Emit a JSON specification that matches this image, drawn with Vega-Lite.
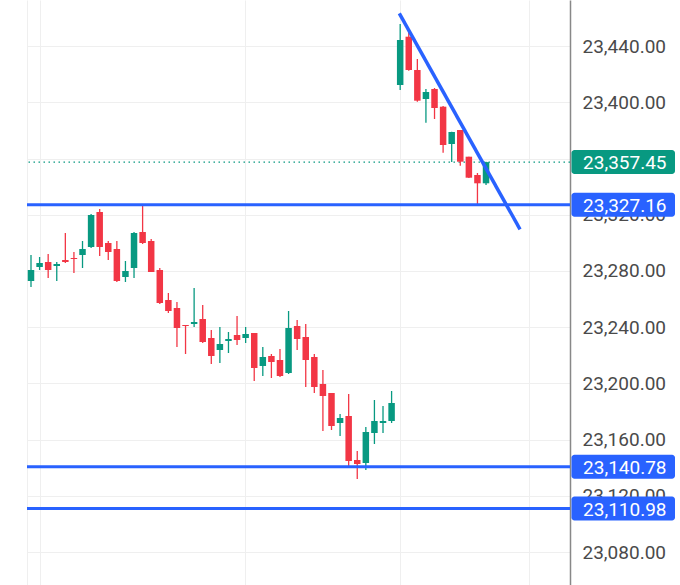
{
  "$schema": "https://vega.github.io/schema/vega-lite/v6.json",
  "description": "Candlestick chart with support levels and a falling trendline.",
  "width": 543,
  "height": 585,
  "autosize": {"type": "none"},
  "padding": {"left": 27, "top": 0, "right": 110, "bottom": 0},
  "config": {"font": "Roboto", "view": {"stroke": null}},
  "datasets": {
    "candles": [
      {"i": 1, "o": 23272.88, "h": 23291.38, "l": 23268.61, "c": 23280.70},
      {"i": 2, "o": 23282.84, "h": 23289.95, "l": 23280.70, "c": 23285.68},
      {"i": 3, "o": 23286.40, "h": 23292.09, "l": 23275.01, "c": 23280.70},
      {"i": 4, "o": 23283.55, "h": 23286.40, "l": 23272.88, "c": 23284.97},
      {"i": 5, "o": 23287.82, "h": 23307.03, "l": 23285.68, "c": 23286.40},
      {"i": 6, "o": 23289.24, "h": 23293.51, "l": 23278.57, "c": 23288.53},
      {"i": 7, "o": 23291.38, "h": 23301.34, "l": 23282.13, "c": 23295.64},
      {"i": 8, "o": 23297.07, "h": 23320.54, "l": 23296.36, "c": 23319.83},
      {"i": 9, "o": 23321.97, "h": 23324.10, "l": 23290.66, "c": 23297.07},
      {"i": 10, "o": 23299.91, "h": 23301.34, "l": 23287.82, "c": 23293.51},
      {"i": 11, "o": 23295.64, "h": 23301.34, "l": 23272.20, "c": 23272.88},
      {"i": 12, "o": 23275.72, "h": 23287.11, "l": 23272.17, "c": 23279.99},
      {"i": 13, "o": 23282.13, "h": 23307.74, "l": 23275.01, "c": 23307.03},
      {"i": 14, "o": 23307.74, "h": 23327.16, "l": 23299.20, "c": 23299.91},
      {"i": 15, "o": 23301.34, "h": 23302.76, "l": 23279.28, "c": 23279.28},
      {"i": 16, "o": 23280.70, "h": 23282.13, "l": 23256.52, "c": 23257.23},
      {"i": 17, "o": 23259.36, "h": 23264.34, "l": 23250.11, "c": 23251.54},
      {"i": 18, "o": 23253.67, "h": 23257.94, "l": 23225.93, "c": 23239.44},
      {"i": 19, "o": 23241.58, "h": 23241.58, "l": 23220.95, "c": 23240.87},
      {"i": 20, "o": 23242.29, "h": 23267.90, "l": 23240.16, "c": 23243.71},
      {"i": 21, "o": 23245.85, "h": 23255.81, "l": 23228.77, "c": 23229.48},
      {"i": 22, "o": 23232.33, "h": 23238.02, "l": 23213.83, "c": 23219.53},
      {"i": 23, "o": 23223.79, "h": 23240.16, "l": 23214.55, "c": 23228.06},
      {"i": 24, "o": 23230.20, "h": 23236.60, "l": 23221.66, "c": 23231.62},
      {"i": 25, "o": 23234.46, "h": 23247.98, "l": 23227.35, "c": 23230.91},
      {"i": 26, "o": 23232.33, "h": 23240.16, "l": 23228.77, "c": 23235.18},
      {"i": 27, "o": 23235.89, "h": 23235.89, "l": 23201.74, "c": 23210.99},
      {"i": 28, "o": 23212.41, "h": 23225.93, "l": 23205.30, "c": 23218.81},
      {"i": 29, "o": 23219.53, "h": 23220.95, "l": 23203.87, "c": 23215.26},
      {"i": 30, "o": 23216.68, "h": 23224.50, "l": 23204.59, "c": 23205.30},
      {"i": 31, "o": 23207.43, "h": 23251.54, "l": 23206.72, "c": 23239.44},
      {"i": 32, "o": 23240.87, "h": 23245.14, "l": 23223.79, "c": 23231.62},
      {"i": 33, "o": 23233.04, "h": 23242.29, "l": 23197.47, "c": 23216.68},
      {"i": 34, "o": 23218.81, "h": 23220.95, "l": 23193.20, "c": 23197.47},
      {"i": 35, "o": 23199.61, "h": 23209.57, "l": 23166.17, "c": 23191.07},
      {"i": 36, "o": 23193.20, "h": 23193.20, "l": 23166.88, "c": 23169.73},
      {"i": 37, "o": 23171.86, "h": 23178.26, "l": 23162.61, "c": 23175.42},
      {"i": 38, "o": 23176.84, "h": 23192.49, "l": 23139.85, "c": 23144.83},
      {"i": 39, "o": 23145.54, "h": 23151.94, "l": 23132.02, "c": 23142.70},
      {"i": 40, "o": 23143.41, "h": 23169.02, "l": 23138.43, "c": 23165.46},
      {"i": 41, "o": 23164.75, "h": 23188.22, "l": 23156.92, "c": 23173.28},
      {"i": 42, "o": 23171.86, "h": 23183.96, "l": 23164.75, "c": 23173.28},
      {"i": 43, "o": 23173.28, "h": 23194.63, "l": 23171.86, "c": 23186.09},
      {"i": 44, "o": 23412.31, "h": 23455.71, "l": 23408.75, "c": 23444.32},
      {"i": 45, "o": 23446.67, "h": 23451.44, "l": 23422.48, "c": 23422.98},
      {"i": 46, "o": 23422.98, "h": 23430.81, "l": 23400.43, "c": 23401.14},
      {"i": 47, "o": 23402.35, "h": 23409.47, "l": 23385.49, "c": 23407.33},
      {"i": 48, "o": 23409.47, "h": 23410.18, "l": 23388.12, "c": 23395.95},
      {"i": 49, "o": 23396.88, "h": 23397.37, "l": 23364.15, "c": 23369.63},
      {"i": 50, "o": 23370.34, "h": 23379.09, "l": 23357.53, "c": 23378.88},
      {"i": 51, "o": 23380.30, "h": 23380.30, "l": 23354.90, "c": 23357.75},
      {"i": 52, "o": 23361.31, "h": 23361.31, "l": 23346.15, "c": 23346.37},
      {"i": 53, "o": 23348.29, "h": 23349.71, "l": 23327.50, "c": 23342.38},
      {"i": 54, "o": 23342.38, "h": 23357.75, "l": 23341.17, "c": 23357.45}
    ],
    "levels": [
      {"v": 23327.16},
      {"v": 23140.78},
      {"v": 23110.98}
    ],
    "trend": [
      {"i": 43.90, "v": 23463.3},
      {"i": 57.96, "v": 23309.66}
    ],
    "tags": [
      {"v": 23357.45, "kind": "last"},
      {"v": 23327.16, "kind": "level"},
      {"v": 23140.78, "kind": "level"},
      {"v": 23110.98, "kind": "level"}
    ]
  },
  "encoding": {
    "y": {
      "type": "quantitative",
      "scale": {"domain": [23056.62, 23472.78], "nice": false, "zero": false, "padding": 0},
      "axis": {
        "orient": "right",
        "values": [23080, 23120, 23160, 23200, 23240, 23280, 23320, 23360, 23400, 23440],
        "format": ",.2f",
        "grid": true,
        "gridColor": "#efefef",
        "ticks": false,
        "domainColor": "#888888",
        "domainWidth": 1.5,
        "labelFont": "Roboto",
        "labelFontSize": 19,
        "labelColor": "#4a4a4a",
        "labelPadding": 12,
        "title": null
      }
    }
  },
  "layer": [
    {
      "data": {"values": [{"v": 23357.45}]},
      "mark": {"type": "rule", "color": "#089981", "strokeWidth": 1.2, "strokeDash": [1.5, 3.5]},
      "encoding": {"y": {"field": "v", "type": "quantitative"}}
    },
    {
      "data": {"name": "candles"},
      "mark": {"type": "rule", "strokeWidth": 1.3},
      "encoding": {
        "x": {
          "field": "i",
          "type": "quantitative",
          "scale": {"domain": [0.534, 63.78], "nice": false, "zero": false, "padding": 0},
          "axis": {
            "values": [0.534, 2.05, 25.9, 43.98, 59],
            "grid": true,
            "gridColor": "#efefef",
            "labels": false,
            "ticks": false,
            "domain": false,
            "title": null
          }
        },
        "y": {"field": "l", "type": "quantitative"},
        "y2": {"field": "h"},
        "color": {
          "condition": {"test": "datum.c >= datum.o", "value": "#089981"},
          "value": "#F23645"
        }
      }
    },
    {
      "data": {"name": "candles"},
      "mark": {"type": "bar", "size": 6.5},
      "encoding": {
        "x": {"field": "i", "type": "quantitative", "scale": {"domain": [0.534, 63.78], "nice": false, "zero": false, "padding": 0}},
        "y": {"field": "o", "type": "quantitative"},
        "y2": {"field": "c"},
        "color": {
          "condition": {"test": "datum.c >= datum.o", "value": "#089981"},
          "value": "#F23645"
        }
      }
    },
    {
      "data": {"name": "levels"},
      "mark": {"type": "rule", "color": "#2962FF", "strokeWidth": 3},
      "encoding": {"y": {"field": "v", "type": "quantitative"}}
    },
    {
      "data": {"name": "trend"},
      "mark": {"type": "line", "color": "#2962FF", "strokeWidth": 3.5},
      "encoding": {
        "x": {"field": "i", "type": "quantitative", "scale": {"domain": [0.534, 63.78], "nice": false, "zero": false, "padding": 0}},
        "y": {"field": "v", "type": "quantitative"}
      }
    },
    {
      "data": {"name": "tags"},
      "mark": {"type": "bar", "size": 24, "cornerRadius": 3, "orient": "horizontal", "clip": false},
      "encoding": {
        "x": {"datum": 63.95, "type": "quantitative", "scale": {"domain": [0.534, 63.78], "nice": false, "zero": false, "padding": 0}},
        "x2": {"datum": 76.01},
        "y": {"field": "v", "type": "quantitative"},
        "color": {
          "condition": {"test": "datum.kind === 'last'", "value": "#089981"},
          "value": "#2962FF"
        }
      }
    },
    {
      "data": {"name": "tags"},
      "mark": {"type": "text", "align": "left", "baseline": "middle", "color": "white", "font": "Roboto", "fontSize": 19, "dy": 1, "clip": false},
      "encoding": {
        "x": {"datum": 65.3, "type": "quantitative", "scale": {"domain": [0.534, 63.78], "nice": false, "zero": false, "padding": 0}},
        "y": {"field": "v", "type": "quantitative"},
        "text": {"field": "v", "type": "quantitative", "format": ",.2f"}
      }
    }
  ]
}
